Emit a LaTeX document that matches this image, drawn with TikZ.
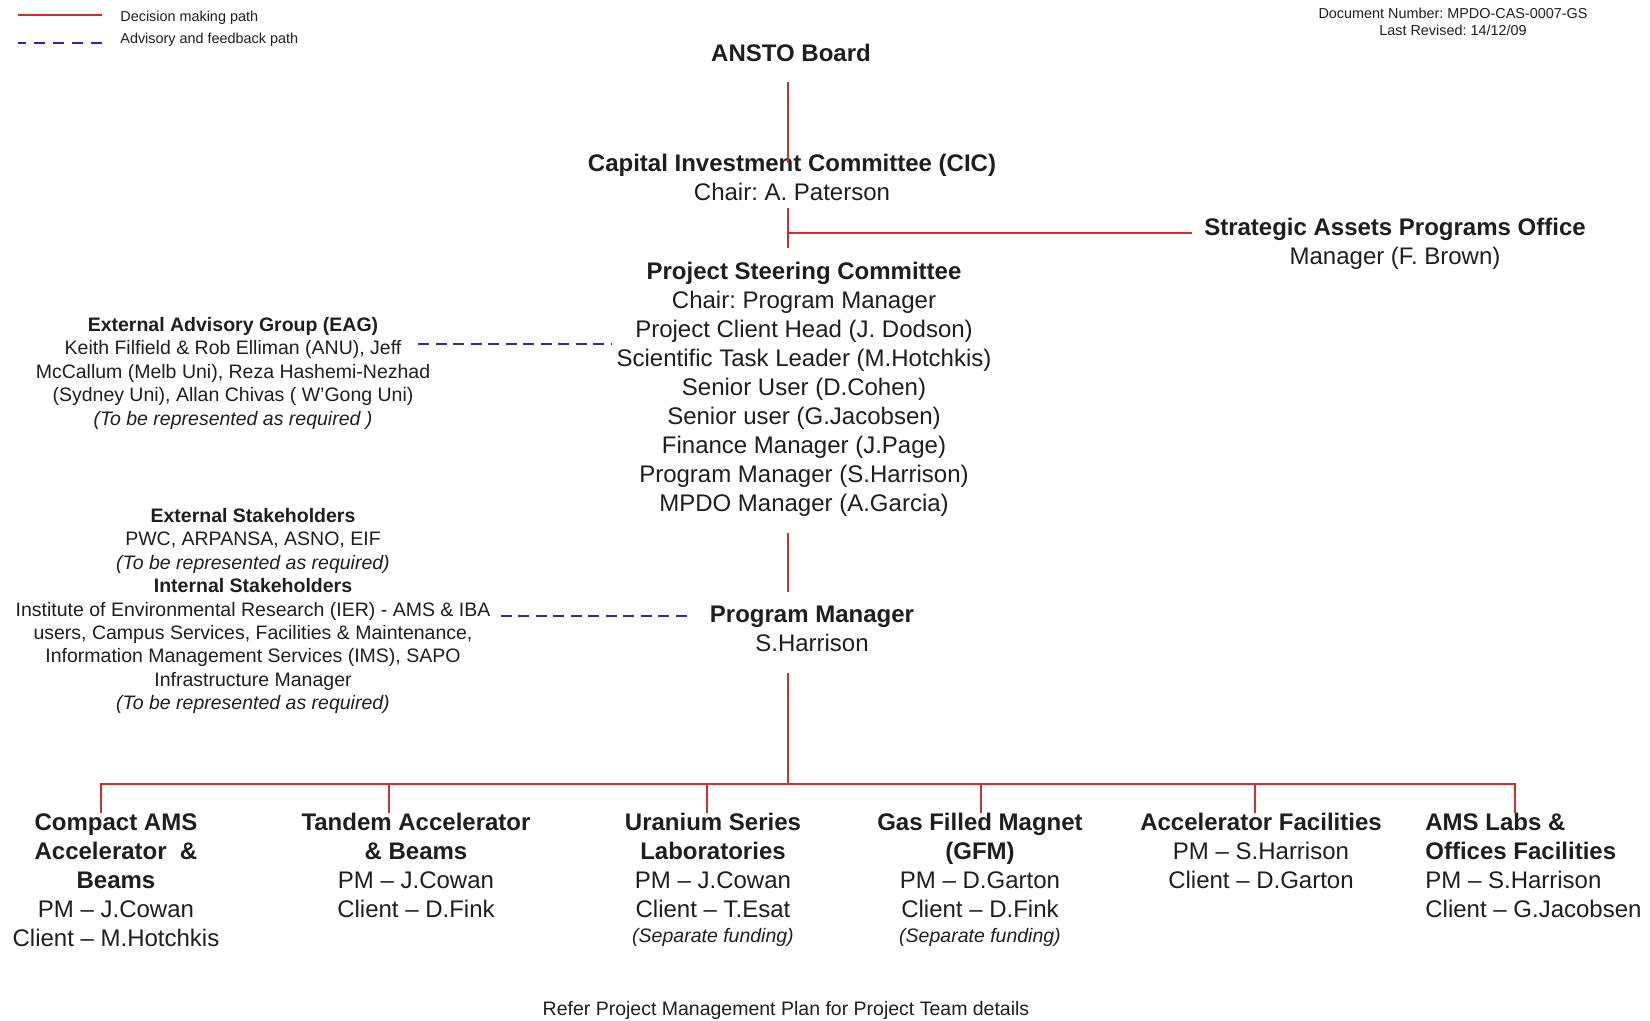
\documentclass[tikz,border=0pt]{standalone}
\usepackage{fontspec}
\setmainfont{Liberation Sans}
\frenchspacing
\definecolor{decred}{RGB}{214,44,44}
\definecolor{advblue}{RGB}{44,44,168}
\definecolor{ink}{RGB}{30,30,30}
\newcommand{\bodysize}{\fontsize{12}{14.5}\selectfont}
\newcommand{\notesize}{\fontsize{9.75}{11.7}\selectfont}
\newcommand{\tinysize}{\fontsize{7.2}{8.7}\selectfont}

\begin{document}
\begin{tikzpicture}[x=0.5pt,y=-0.5pt]

    \tikzset{
      decision/.style={draw=decred, line width=1pt},
      advisory/.style={draw=advblue, line width=0.9pt, dash pattern=on 5.5pt off 3.25pt},
      unit/.style={align=center, inner sep=0pt, anchor=north, text=ink, font=\bodysize},
      note/.style={align=center, inner sep=0pt, anchor=north, text=ink, font=\notesize},
      legend/.style={inner sep=0pt, anchor=west, text=ink, font=\tinysize},
    }
    \useasboundingbox (0,0) rectangle (1650,1021);

    % legend and document number
    \node[legend] (legdec) at (120,18) {Decision making path};
    \node[legend] (legadv) at (120,40) {Advisory and feedback path};
    \draw[decision] (legdec.west) ++(-18,-3) -- ++(-84,0);
    \draw[advisory, dash pattern=on 5.5pt off 4pt] (legadv.west) ++(-18,3) -- ++(-84,0);
    \node[align=center, inner sep=0pt, text=ink, font=\tinysize] (docno) at (1453,22)
      {Document Number: MPDO-CAS-0007-GS\\Last Revised: 14/12/09};

    % governance
    \node[unit] (board) at (791,44) {\textbf{ANSTO Board}};
    \node[unit] (cic) at (792,154) {\textbf{Capital Investment Committee (CIC)}\\Chair: A. Paterson};
    \node[unit] (sapo) at (1395,218) {\textbf{Strategic Assets Programs Office}\\Manager (F. Brown)};
    \node[unit] (psc) at (804,262) {\textbf{Project Steering Committee}\\Chair: Program Manager\\
      Project Client Head (J. Dodson)\\Scientific Task Leader (M.Hotchkis)\\Senior User (D.Cohen)\\
      Senior user (G.Jacobsen)\\Finance Manager (J.Page)\\Program Manager (S.Harrison)\\
      MPDO Manager (A.Garcia)};
    \node[note] (eag) at (233,317) {\textbf{External Advisory Group (EAG)}\\
      Keith Filfield \& Rob Elliman (ANU), Jeff\\McCallum (Melb Uni), Reza Hashemi-Nezhad\\
      (Sydney Uni), Allan Chivas ( W’Gong Uni)\\\textit{(To be represented as required )}};
    \node[note] (stake) at (253,508) {\textbf{External Stakeholders}\\PWC, ARPANSA, ASNO, EIF\\
      \textit{(To be represented as required)}\\\textbf{Internal Stakeholders}\\
      Institute of Environmental Research (IER) - AMS \& IBA\\
      users, Campus Services, Facilities \& Maintenance,\\
      Information Management Services (IMS), SAPO\\Infrastructure Manager\\
      \textit{(To be represented as required)}};
    \node[unit] (pm) at (812,606) {\textbf{Program Manager}\\S.Harrison};

    % projects
    \node[unit] (cams) at (116,813) {\textbf{Compact AMS}\\\textbf{Accelerator \ \&}\\\textbf{Beams}\\
      PM \textendash{} J.Cowan\\Client \textendash{} M.Hotchkis};
    \node[unit] (tandem) at (416,813) {\textbf{Tandem Accelerator}\\\textbf{\& Beams}\\
      PM \textendash{} J.Cowan\\Client \textendash{} D.Fink};
    \node[unit] (uranium) at (713,813) {\textbf{Uranium Series}\\\textbf{Laboratories}\\
      PM \textendash{} J.Cowan\\Client \textendash{} T.Esat\\[-2pt]{\notesize\itshape (Separate funding)}};
    \node[unit] (gfm) at (980,813) {\textbf{Gas Filled Magnet}\\\textbf{(GFM)}\\
      PM \textendash{} D.Garton\\Client \textendash{} D.Fink\\[-2pt]{\notesize\itshape (Separate funding)}};
    \node[unit] (accfac) at (1261,813) {\textbf{Accelerator Facilities}\\
      PM \textendash{} S.Harrison\\Client \textendash{} D.Garton};
    \node[unit, align=left, anchor=north west] (amslabs) at (1425,813) {\textbf{AMS Labs \&}\\
      \textbf{Offices Facilities}\\PM \textendash{} S.Harrison\\Client \textendash{} G.Jacobsen};

    \node[inner sep=0pt, text=ink, font=\notesize] (footer) at (786,1010)
      {Refer Project Management Plan for Project Team details};

    % decision making path
    \coordinate (spine) at (788,0);
    \coordinate (sapojoin) at (788,233);
    \coordinate (bus) at (788,784);
    \draw[decision, shorten <=10pt, shorten >=-4.5pt] (board.south -| spine) -- (cic.north -| spine);
    \draw[decision, shorten <=3.5pt, shorten >=7pt] (cic.south -| spine) -- (psc.north -| spine);
    \draw[decision, shorten >=6pt] (sapojoin) -- (sapojoin -| sapo.west);
    \draw[decision, shorten <=8pt, shorten >=7pt] (psc.south -| spine) -- (pm.north -| spine);
    \draw[decision, shorten <=10pt] (pm.south -| spine) -- (bus);
    \draw[decision] (cams.north -| 101,0) |- (bus) -| (amslabs.north -| 1515,0);
    \foreach \unit/\x in {tandem/389, uranium/707, gfm/981, accfac/1255}
      \draw[decision] (bus -| \x,0) -- (\unit.north -| \x,0);

    % advisory and feedback path
    \coordinate (eaglink) at (418,344);
    \draw[advisory, shorten >=2pt] (eaglink) -- (eaglink -| psc.west);
    \draw[advisory, shorten <=5pt, shorten >=8.5pt] (stake.east |- 0,616) -- (pm.west |- 0,616);

\end{tikzpicture}
\end{document}
